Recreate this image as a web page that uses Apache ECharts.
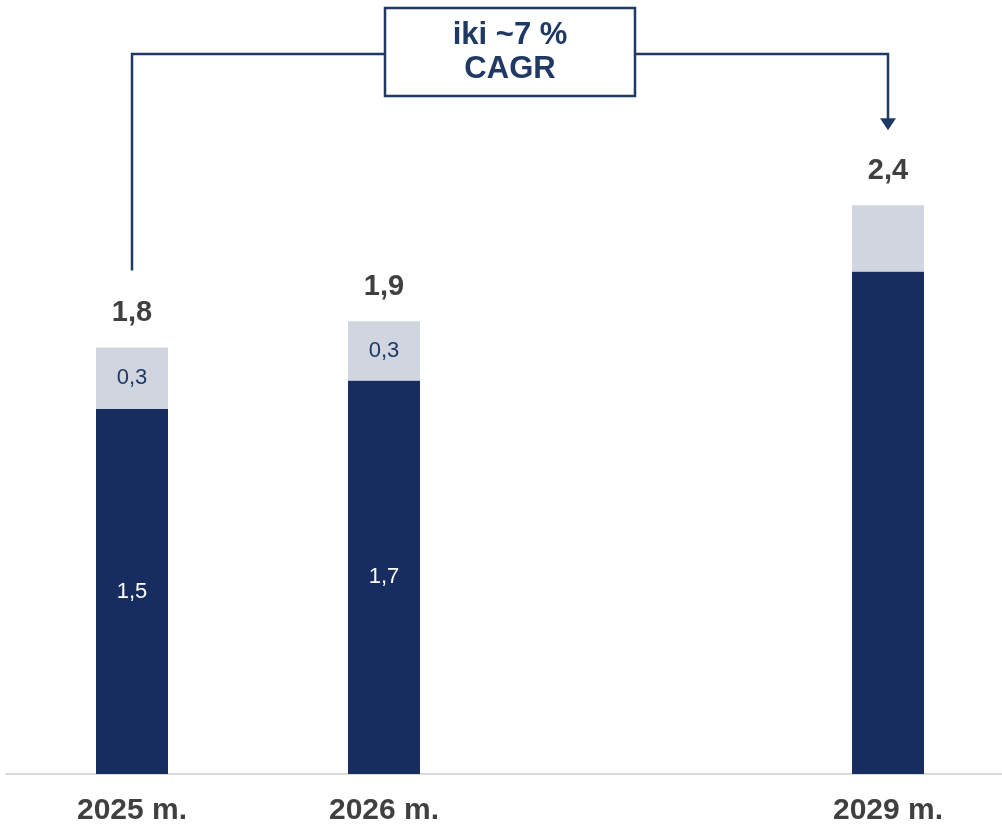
<!DOCTYPE html>
<html>
<head>
<meta charset="utf-8">
<script src="https://cdn.jsdelivr.net/npm/echarts@6/dist/echarts.min.js"></script>
<style>
html,body{margin:0;padding:0;background:#fff;overflow:hidden;width:1002px;height:829px;}
#chart{width:1020px;height:829px;}
</style>
</head>
<body>
<div id="chart"></div>
<script>
// ---- data ----
var categories = ['2025 m.', '2026 m.', '', '2029 m.'];
var baseValues = [1.54, 1.66, null, 2.12];     // dark segment
var extraValues = [0.26, 0.25, null, 0.28];    // light segment
var baseLabels = ['1,5', '1,7', '', ''];
var extraLabels = ['0,3', '0,3', '', ''];
var totalLabels = ['1,8', '1,9', '', '2,4'];
var cagrText = 'iki ~7 %\nCAGR';

var totals = baseValues.map(function (v, i) { return v == null ? null : v + extraValues[i]; });

var FONT = '"Liberation Sans", Arial, sans-serif';
var NAVY = '#172d5f';
var LIGHT = '#d0d5e0';
var LINE = '#1f3864';
var GREY = '#404040';

var chart = echarts.init(document.getElementById('chart'), null, {renderer: 'canvas'});
chart.setOption({
  animation: false,
  backgroundColor: '#ffffff',
  grid: {left: 6, width: 1008, top: 63, bottom: 55},
  xAxis: {
    type: 'category',
    data: categories,
    axisLine: {lineStyle: {color: '#d9d9d9', width: 2}},
    axisTick: {show: false},
    axisLabel: {color: GREY, fontSize: 30, fontWeight: 'bold', fontFamily: FONT, margin: 22}
  },
  yAxis: {type: 'value', min: 0, max: 3, show: false, splitLine: {show: false}},
  series: [
    {
      type: 'bar', stack: 's', data: baseValues, barWidth: 72,
      itemStyle: {color: NAVY},
      label: {show: true, position: 'inside', color: '#ffffff', fontSize: 22, fontFamily: FONT,
        formatter: function (p) { return baseLabels[p.dataIndex]; }}
    },
    {
      type: 'bar', stack: 's', data: extraValues, barWidth: 72,
      itemStyle: {color: LIGHT},
      label: {show: true, position: 'inside', color: LINE, fontSize: 22, fontFamily: FONT,
        formatter: function (p) { return extraLabels[p.dataIndex]; }}
    },
    {
      type: 'scatter', data: totals, symbolSize: 0, silent: true,
      itemStyle: {opacity: 1},
      label: {show: true, position: 'top', distance: 20, color: GREY, opacity: 1, fontSize: 29, fontWeight: 'bold', fontFamily: FONT,
        formatter: function (p) { return totalLabels[p.dataIndex]; }}
    }
  ]
});

// ---- CAGR bracket annotation, positioned from the axes ----
var pA = chart.convertToPixel({xAxisIndex: 0, yAxisIndex: 0}, [0, totals[0]]);
var pB = chart.convertToPixel({xAxisIndex: 0, yAxisIndex: 0}, [3, totals[3]]);
var topY = 54;
var leftBottom = pA[1] - 77;
var tip = pB[1] - 75;
var midX = (pA[0] + pB[0]) / 2;
var boxW = 250, boxH = 88;

chart.setOption({
  graphic: [
    {type: 'polyline', shape: {points: [[pA[0], leftBottom], [pA[0], topY], [pB[0], topY], [pB[0], tip - 11]]},
      style: {stroke: LINE, lineWidth: 2.5, fill: null}},
    {type: 'polygon', shape: {points: [[pB[0] - 8, tip - 12], [pB[0] + 8, tip - 12], [pB[0], tip]]},
      style: {fill: LINE}},
    {type: 'rect', shape: {x: midX - boxW / 2, y: 8, width: boxW, height: boxH},
      style: {fill: '#ffffff', stroke: LINE, lineWidth: 2.5}},
    {type: 'text', x: midX, y: 8 + boxH / 2,
      style: {text: cagrText, align: 'center', verticalAlign: 'middle', fill: LINE,
        fontSize: 31, fontWeight: 'bold', fontFamily: FONT, lineHeight: 34}}
  ]
});
</script>
</body>
</html>
